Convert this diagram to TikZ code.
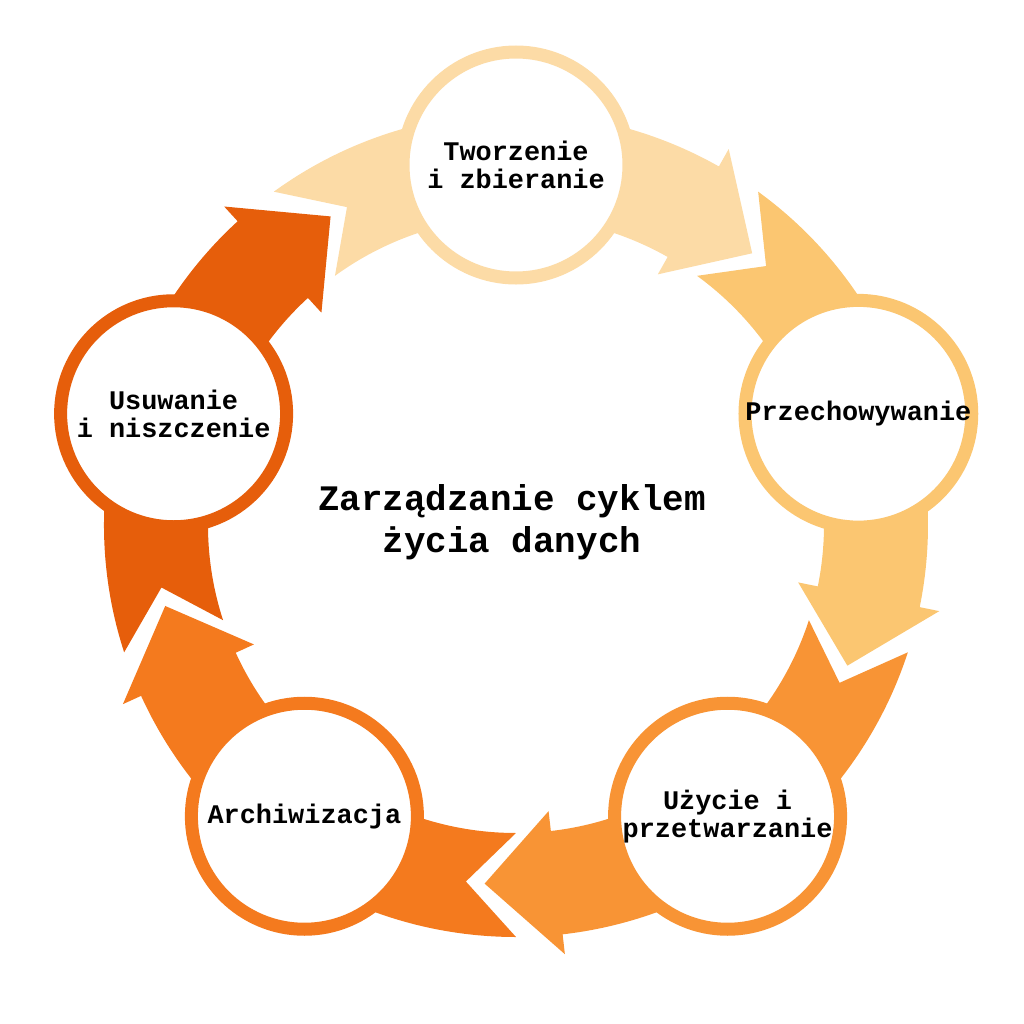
\documentclass[tikz,border=0pt]{standalone}
\usepackage{fontspec}
\setmainfont{Liberation Mono}
\definecolor{stageA}{HTML}{FCDBA6}
\definecolor{stageB}{HTML}{FBC671}
\definecolor{stageC}{HTML}{F89435}
\definecolor{stageD}{HTML}{F47A1E}
\definecolor{stageE}{HTML}{E65E0B}

\begin{document}
\begin{tikzpicture}
\tikzset{stage/.style = {circle, line width=7.4pt, fill=white, minimum size=4.52cm, inner sep=0pt, align=center, font=\fontsize{15.3}{15.9}\selectfont\bfseries}}
%\tikzset{band/.style = {draw=none}}

   \useasboundingbox (-10.32,-9.98) rectangle (10.16,10.5);
   \def\R{7.2}

   % arrow bands, tail notch to blunt head
   \foreach \a/\col in {90/stageA, 18/stageB, -54/stageC, -126/stageD, 162/stageE}
     {\fill[\col] (\a+36:8.24) arc[start angle=\a+36, end angle=\a-29.5, radius=8.24]
        -- (\a-29.5:8.64) -- (\a-41:\R) -- (\a-29.5:5.76) -- (\a-29.5:6.16)
        arc[start angle=\a-29.5, end angle=\a+36, radius=6.16] -- (\a+28:\R) -- cycle;}

   \node[stage, draw=stageA] (create) at (90:\R) {Tworzenie\\i zbieranie};
   \node[stage, draw=stageB] (store) at (18:\R) {Przechowywanie};
   \node[stage, draw=stageC] (use) at (-54:\R) {Użycie i\\przetwarzanie};
   \node[stage, draw=stageD] (archive) at (-126:\R) {Archiwizacja};
   \node[stage, draw=stageE] (delete) at (162:\R) {Usuwanie\\i niszczenie};

   \node[align=center, font=\fontsize{20.4}{23.9}\selectfont\bfseries] (title) at (-0.08,0.06) {Zarządzanie cyklem\\życia danych};

\end{tikzpicture}
\end{document}
